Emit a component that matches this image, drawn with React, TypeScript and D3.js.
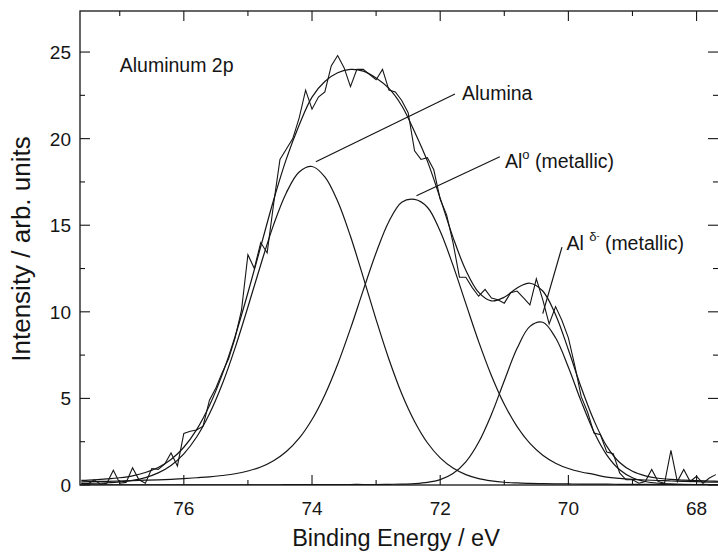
import React from 'react';
import * as d3 from 'd3';

// Raw spectrum (binding energy in eV, intensity in arb. units)
const rawEnergy = [77.6,77.5,77.4,77.3,77.2,77.1,77.0,76.9,76.8,76.7,76.6,76.5,76.4,76.3,76.2,76.1,76.0,75.9,75.8,75.7,75.6,75.5,75.4,75.3,75.2,75.1,75.0,74.9,74.8,74.7,74.6,74.5,74.4,74.3,74.2,74.1,74.0,73.9,73.8,73.7,73.6,73.5,73.4,73.3,73.2,73.1,73.0,72.9,72.8,72.7,72.6,72.5,72.4,72.3,72.2,72.1,72.0,71.9,71.8,71.7,71.6,71.5,71.4,71.3,71.2,71.1,71.0,70.9,70.8,70.7,70.6,70.5,70.4,70.3,70.2,70.1,70.0,69.9,69.8,69.7,69.6,69.5,69.4,69.3,69.2,69.1,69.0,68.9,68.8,68.7,68.6,68.5,68.4,68.3,68.2,68.1,68.0,67.9,67.8,67.7];
const rawIntensity = [0.1,0.05,0.3,0.05,0.1,0.85,0.1,0.15,1.0,0.3,0.1,0.95,0.9,1.2,1.85,1.1,2.98,3.1,3.18,3.4,4.9,5.6,6.5,7.3,8.5,10.1,13.3,12.5,14.0,13.4,16.2,18.8,19.4,20.0,21.2,22.8,21.7,22.4,22.7,24.2,24.8,24.1,23.0,24.0,24.0,23.7,23.4,24.0,22.8,22.7,22.2,21.5,19.3,18.8,18.9,18.2,16.5,15.6,14.0,12.0,12.0,11.4,10.9,11.3,10.8,10.7,10.5,11.1,11.2,10.8,10.4,11.9,10.7,9.3,10.3,9.5,8.5,6.9,5.1,4.2,3.0,2.9,1.9,1.8,0.7,0.3,0.3,0.1,0.2,0.9,0.2,0.1,2.0,0.2,0.9,0.2,0.5,0.1,0.4,0.6];

// Fitted curves sampled every 0.2 eV
const fitEnergy = [77.6,77.4,77.2,77.0,76.8,76.6,76.4,76.2,76.0,75.8,75.6,75.4,75.2,75.0,74.8,74.6,74.4,74.2,74.0,73.8,73.6,73.4,73.2,73.0,72.8,72.6,72.4,72.2,72.0,71.8,71.6,71.4,71.2,71.0,70.8,70.6,70.4,70.2,70.0,69.8,69.6,69.4,69.2,69.0,68.8,68.6,68.4,68.2,68.0,67.8,67.6];
const aluminaFit = [0.08,0.10,0.13,0.18,0.27,0.43,0.70,1.13,1.80,2.77,4.11,5.83,7.92,10.28,12.72,15.02,16.88,18.07,18.39,17.79,16.38,14.36,11.99,9.55,7.26,5.27,3.67,2.44,1.57,0.98,0.60,0.37,0.24,0.16,0.12,0.09,0.08,0.07,0.06,0.05,0.05,0.05,0.04,0.04,0.04,0.03,0.03,0.03,0.03,0.03,0.02];
const metallicFit = [0.18,0.20,0.21,0.23,0.25,0.28,0.30,0.33,0.37,0.42,0.47,0.55,0.65,0.81,1.04,1.40,1.93,2.70,3.78,5.20,6.97,9.03,11.25,13.41,15.22,16.33,16.49,16.04,14.65,12.68,10.47,8.28,6.31,4.66,3.37,2.40,1.72,1.26,0.95,0.75,0.61,0.45,0.38,0.33,0.29,0.26,0.23,0.21,0.19,0.17,0.16];
const deltaFit = [0.01,0.01,0.01,0.01,0.01,0.01,0.01,0.01,0.01,0.01,0.01,0.01,0.01,0.01,0.01,0.01,0.02,0.02,0.02,0.02,0.02,0.03,0.03,0.03,0.04,0.05,0.08,0.15,0.31,0.66,1.34,2.47,4.08,6.02,7.89,9.16,9.40,8.50,6.80,4.83,3.06,1.73,0.88,0.42,0.20,0.10,0.06,0.04,0.03,0.03,0.02];
const envelopeFit = [0.27,0.30,0.35,0.42,0.53,0.72,1.01,1.47,2.18,3.20,4.59,6.39,8.58,11.10,13.77,16.44,18.83,20.79,22.4,23.3,23.8,24.0,23.9,23.5,22.9,21.9,20.4,18.7,16.55,14.3,12.4,11.12,10.63,10.84,11.38,11.65,11.2,9.83,7.81,5.63,3.72,2.23,1.30,0.79,0.53,0.39,0.32,0.28,0.25,0.23,0.20];

// Axis ticks
const xMajorTicks = [76, 74, 72, 70, 68];
const xMinorTicks = [77, 75, 73, 71, 69];
const yMajorTicks = [0, 5, 10, 15, 20, 25];
const yMinorTicks = [2.5, 7.5, 12.5, 17.5, 22.5];

// Annotation anchors (data coordinates)
const aluminaLeader: [number, number][] = [[73.94, 18.67], [71.77, 22.58]];
const metallicLeader: [number, number][] = [[72.37, 16.70], [71.07, 18.95]];
const deltaLeader: [number, number][] = [[70.10, 13.74], [70.40, 9.9]];

const FONT = "'Liberation Sans', Arial, Helvetica, sans-serif";
const INK = '#151515';

export default function App() {
  const left = 80, right = 719, top = 11, bottom = 485;
  const x = d3.scaleLinear().domain([77.62, 67.65]).range([left, right]);
  const y = d3.scaleLinear().domain([0, 27.37]).range([bottom, top]);

  const smooth = d3.line<[number, number]>()
    .x(d => x(d[0])).y(d => y(d[1]))
    .curve(d3.curveCatmullRom.alpha(0.5));
  const straight = d3.line<[number, number]>()
    .x(d => x(d[0])).y(d => y(d[1]));

  const pairs = (xs: number[], ys: number[]) => xs.map((e, i) => [e, ys[i]] as [number, number]);

  const fits = [aluminaFit, metallicFit, deltaFit, envelopeFit];

  return (
    <svg width={718} height={554} style={{ position: 'absolute', left: 0, top: 0, background: '#fff' }}
      fontFamily={FONT}>
      <defs>
        <clipPath id="plotClip">
          <rect x={left} y={top} width={right - left} height={bottom - top} />
        </clipPath>
      </defs>
      <rect x={0} y={0} width={718} height={554} fill="#fff" />

      <g clipPath="url(#plotClip)" fill="none" stroke={INK}>
        {fits.map((f, i) => (
          <path key={i} d={smooth(pairs(fitEnergy, f)) || ''} strokeWidth={1.2} />
        ))}
        <path d={straight(pairs(rawEnergy, rawIntensity)) || ''} strokeWidth={1.1} strokeLinejoin="miter" />
      </g>

      {/* frame */}
      <rect x={left} y={top} width={right - left} height={bottom - top} fill="none" stroke={INK} strokeWidth={1.3} />

      {/* x ticks */}
      {xMajorTicks.map(t => (
        <g key={'xM' + t}>
          <line x1={x(t)} x2={x(t)} y1={bottom} y2={bottom - 10} stroke={INK} strokeWidth={1.1} />
          <line x1={x(t)} x2={x(t)} y1={top} y2={top + 10} stroke={INK} strokeWidth={1.1} />
          <text x={x(t)} y={515} textAnchor="middle" fontSize={19} fill={INK}>{t}</text>
        </g>
      ))}
      {xMinorTicks.map(t => (
        <g key={'xm' + t}>
          <line x1={x(t)} x2={x(t)} y1={bottom} y2={bottom - 5} stroke={INK} strokeWidth={1.1} />
          <line x1={x(t)} x2={x(t)} y1={top} y2={top + 5} stroke={INK} strokeWidth={1.1} />
        </g>
      ))}
      {/* y ticks */}
      {yMajorTicks.map(t => (
        <g key={'yM' + t}>
          <line x1={left} x2={left + 10} y1={y(t)} y2={y(t)} stroke={INK} strokeWidth={1.1} />
          <line x1={718} x2={708} y1={y(t)} y2={y(t)} stroke={INK} strokeWidth={1.1} />
          <text x={71} y={y(t) + 7} textAnchor="end" fontSize={19} fill={INK}>{t}</text>
        </g>
      ))}
      {yMinorTicks.map(t => (
        <g key={'ym' + t}>
          <line x1={left} x2={left + 5} y1={y(t)} y2={y(t)} stroke={INK} strokeWidth={1.1} />
          <line x1={718} x2={713} y1={y(t)} y2={y(t)} stroke={INK} strokeWidth={1.1} />
        </g>
      ))}

      {/* axis titles */}
      <text x={396} y={546} textAnchor="middle" fontSize={23.5} fill={INK}>Binding Energy / eV</text>
      <text transform={`translate(30, 249) rotate(-90)`} textAnchor="middle" fontSize={26} fill={INK}>Intensity / arb. units</text>

      {/* annotations */}
      <text x={x(77.0)} y={y(23.85)} fontSize={19.5} fill={INK}>Aluminum 2p</text>

      <path d={straight(aluminaLeader) || ''} stroke={INK} strokeWidth={1.2} fill="none" />
      <text x={x(71.66)} y={y(22.23)} fontSize={19.5} fill={INK}>Alumina</text>

      <path d={straight(metallicLeader) || ''} stroke={INK} strokeWidth={1.2} fill="none" />
      <text x={x(70.99)} y={y(18.30)} fontSize={19.5} fill={INK}>
        Al<tspan fontSize={13} dy={-9}>o</tspan><tspan dy={9}> (metallic)</tspan>
      </text>

      <path d={straight(deltaLeader) || ''} stroke={INK} strokeWidth={1.2} fill="none" />
      <text x={x(70.03)} y={y(13.57)} fontSize={19.5} fill={INK}>
        Al <tspan fontSize={13} dy={-9}>δ</tspan><tspan fontSize={9} dy={-2}>-</tspan><tspan dy={11}> (metallic)</tspan>
      </text>
    </svg>
  );
}
